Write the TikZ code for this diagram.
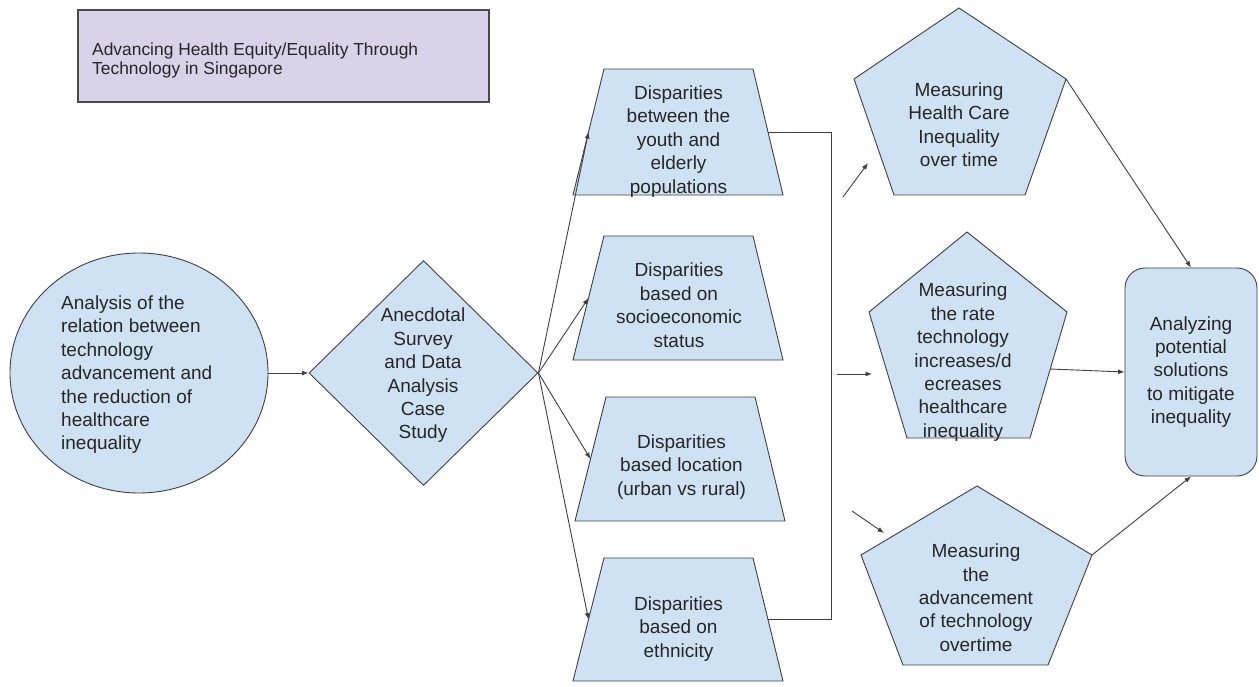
\documentclass[tikz,border=0pt]{standalone}
\usepackage{fontspec}
\setmainfont{Liberation Sans}
\usetikzlibrary{arrows.meta,calc,shapes.geometric}
\definecolor{shapefill}{HTML}{CFE2F3}
\definecolor{titlefill}{HTML}{D9D2E9}
\definecolor{edgecol}{HTML}{404040}
\definecolor{titleedge}{HTML}{4A4A4A}
\definecolor{txtcol}{HTML}{262626}
\begin{document}
\begin{tikzpicture}[x=1pt,y=-1pt,
  shp/.style={fill=shapefill, draw=edgecol, line width=0.9pt, line join=miter},
  txt/.style={align=center, inner sep=0pt, anchor=north, text=txtcol, font=\fontsize{19}{23.4}\selectfont},
  conn/.style={draw=edgecol, line width=0.9pt},
  arr/.style={conn, -{Latex[length=6.5pt,width=5pt]}}]
\useasboundingbox (0,0) rectangle (1259,687);
\fill[white] (0,0) rectangle (1259,687);

% title
\path[draw=titleedge, fill=titlefill, line width=1.4pt] (78,10) rectangle (489,102);
\node (title) [anchor=north west, align=left, inner sep=0pt, text=txtcol,
  font=\fontsize{17.4}{18.5}\selectfont] at (92,43)
  {Advancing Health Equity/Equality Through\\Technology in Singapore};

% circle
\node (circ) [shp, ellipse, minimum width=258pt, minimum height=240pt, inner sep=0pt] at (139,373) {};
\node (circtxt) [txt, align=left, anchor=north west] at (61,295.5)
  {Analysis of the\\relation between\\technology\\advancement and\\the reduction of\\healthcare\\inequality};

% diamond
\node (dia) [shp, diamond, minimum width=229pt, minimum height=225pt, inner sep=0pt] at (423.5,373) {};
\node (diatxt) [txt] at (423,308) {Anecdotal\\Survey\\and Data\\Analysis\\Case\\Study};

% trapezoids
\path[shp] (604,69) -- (753,69) -- (783,195) -- (573,195) -- cycle;
\path[shp] (604,236) -- (753,236) -- (783,360) -- (573,360) -- cycle;
\path[shp] (606,397) -- (755,397) -- (785,521) -- (575,521) -- cycle;
\path[shp] (604,558) -- (753,558) -- (783,681) -- (573,681) -- cycle;
\coordinate (t1w) at (588.5,132);
\coordinate (t1e) at (768,132);
\coordinate (t2w) at (588.5,298);
\coordinate (t3w) at (590.5,459);
\coordinate (t4w) at (588.5,619.5);
\coordinate (t4e) at (768,619.5);
\node (t1txt) [txt] at (678.5,85.5) {Disparities\\between the\\youth and\\elderly\\populations};
\node (t2txt) [txt] at (679,263) {Disparities\\based on\\socioeconomic\\status};
\node (t3txt) [txt] at (681.5,434.5) {Disparities\\based location\\(urban vs rural)};
\node (t4txt) [txt] at (678.5,596.3) {Disparities\\based on\\ethnicity};

% pentagons
\path[shp] (959,8) -- (1066,79) -- (1025,195) -- (894,195) -- (854,79) -- cycle;
\path[shp] (967,232) -- (1067,312) -- (1030,438) -- (907,438) -- (869,312) -- cycle;
\path[shp] (977,486) -- (1092,555) -- (1048,665) -- (903,665) -- (861,555) -- cycle;
\coordinate (p1r) at (1066,79);
\coordinate (p2r) at (1050,369);
\coordinate (p3r) at (1092,555);
\node (p1txt) [txt] at (959,82.3) {Measuring\\Health Care\\Inequality\\over time};
\node (p2txt) [txt] at (963,283) {Measuring\\the rate\\technology\\increases/d\\ecreases\\healthcare\\inequality};
\node (p3txt) [txt] at (976,543.7) {Measuring\\the\\advancement\\of technology\\overtime};

% result box
\node (box) [shp, rectangle, rounded corners=20pt, minimum width=132pt, minimum height=208pt,
  inner sep=0pt, align=center, text=txtcol, font=\fontsize{19}{23.4}\selectfont] at (1191,372)
  {Analyzing\\potential\\solutions\\to mitigate\\inequality};

% connectors
\draw[arr] (circ.east) -- (dia.west);
\draw[arr] (dia.east) -- (t1w);
\draw[arr] (dia.east) -- (t2w);
\draw[arr] (dia.east) -- (t3w);
\draw[arr] (dia.east) -- (t4w);
\draw[conn] (t1e) -- ++(63,0) |- (t4e);

\coordinate (a1s) at (843,197);
\coordinate (a1e) at (868,163);
\coordinate (a2s) at (837,374);
\coordinate (a2e) at (872,374);
\coordinate (a3s) at (852,511);
\coordinate (a3e) at (884,533);
\draw[arr] (a1s) -- (a1e);
\draw[arr] (a2s) -- (a2e);
\draw[arr] (a3s) -- (a3e);

\draw[arr] (p1r) -- (box.north);
\draw[arr] (p2r) -- (box.west);
\draw[arr] (p3r) -- (box.south);
\end{tikzpicture}
\end{document}
